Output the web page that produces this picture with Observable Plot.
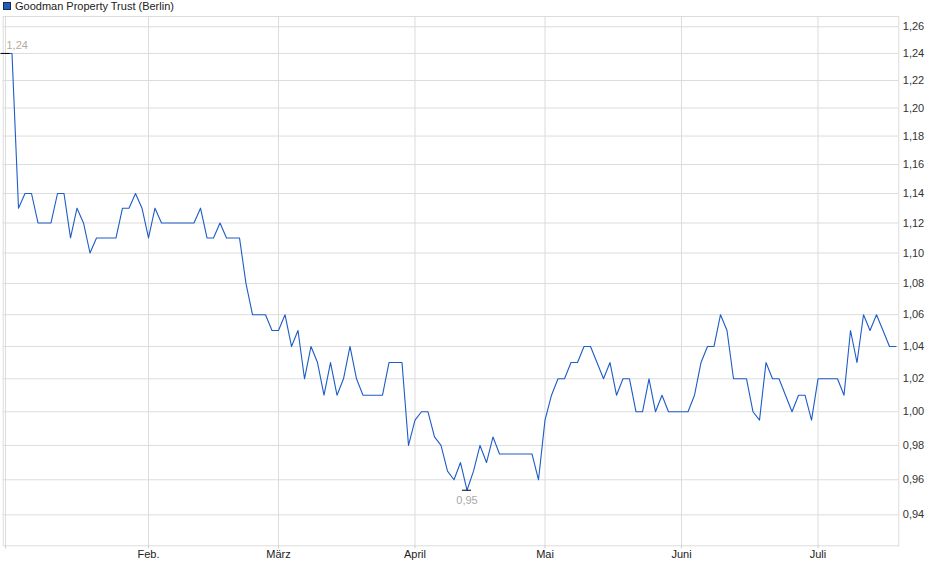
<!DOCTYPE html>
<html>
<head>
<meta charset="utf-8">
<script src="https://cdn.jsdelivr.net/npm/d3@7"></script>
<script src="https://cdn.jsdelivr.net/npm/@observablehq/plot@0.6"></script>
<style>
  html, body { margin: 0; padding: 0; background: #fff; }
  #legend { height: 14px; line-height: 14px; font: 11px "Liberation Sans", Arial, sans-serif; color: #222; padding-left: 3px; white-space: nowrap; }
  #legend .sw { display: inline-block; width: 6px; height: 6px; background: #1e5cc6; border: 1px solid #1a2a48; vertical-align: -0px; margin-right: 4px; }
  svg { display: block; }
</style>
</head>
<body>
<div id="legend"><span class="sw"></span>Goodman Property Trust (Berlin)</div>
<div id="chart"></div>
<script>
const seriesName = "Goodman Property Trust (Berlin)";
// daily closing prices (one per trading day)
const values = [
  1.24, 1.24, 1.13, 1.14, 1.14, 1.12, 1.12, 1.12, 1.14, 1.14,
  1.11, 1.13, 1.12, 1.10, 1.11, 1.11, 1.11, 1.11, 1.13, 1.13,
  1.14, 1.13, 1.11, 1.13, 1.12, 1.12, 1.12, 1.12, 1.12, 1.12,
  1.13, 1.11, 1.11, 1.12, 1.11, 1.11, 1.11, 1.08, 1.06, 1.06,
  1.06, 1.05, 1.05, 1.06, 1.04, 1.05, 1.02, 1.04, 1.03, 1.01,
  1.03, 1.01, 1.02, 1.04, 1.02, 1.01, 1.01, 1.01, 1.01, 1.03,
  1.03, 1.03, 0.98, 0.995, 1.00, 1.00, 0.985, 0.98, 0.965, 0.96,
  0.97, 0.954, 0.965, 0.98, 0.97, 0.985, 0.975, 0.975, 0.975, 0.975,
  0.975, 0.975, 0.96, 0.995, 1.01, 1.02, 1.02, 1.03, 1.03, 1.04,
  1.04, 1.03, 1.02, 1.03, 1.01, 1.02, 1.02, 1.00, 1.00, 1.02,
  1.00, 1.01, 1.00, 1.00, 1.00, 1.00, 1.01, 1.03, 1.04, 1.04,
  1.06, 1.05, 1.02, 1.02, 1.02, 1.00, 0.995, 1.03, 1.02, 1.02,
  1.01, 1.00, 1.01, 1.01, 0.995, 1.02, 1.02, 1.02, 1.02, 1.01,
  1.05, 1.03, 1.06, 1.05, 1.06, 1.05, 1.04, 1.04
];
// month boundaries (trading-day index) and their labels
const monthTickIndex = [0, 22, 42, 63, 83, 104, 125];
const monthLabels = ["", "Feb.", "März", "April", "Mai", "Juni", "Juli"];
// price axis ticks
const priceTicks = [0.94, 0.96, 0.98, 1.00, 1.02, 1.04, 1.06, 1.08, 1.10, 1.12, 1.14, 1.16, 1.18, 1.20, 1.22, 1.24, 1.26];

const fmt = d => d3.format(".2f")(d).replace(".", ",");
const data = values.map((v, i) => ({i, v}));
const maxV = d3.max(values), minV = d3.min(values);
const maxPt = data[values.indexOf(maxV)];
const minPt = data[values.indexOf(minV)];
const lineColor = "#1e5cc6";

const chart = Plot.plot({
  width: 940,
  height: 565,
  marginTop: 2,
  marginBottom: 33.7,
  marginLeft: 2.7,
  marginRight: 41.7,
  style: {fontFamily: "'Liberation Sans', Arial, sans-serif", fontSize: "11px", color: "#333", background: "#fff"},
  x: {type: "linear", domain: [-0.354, 137.43], axis: null},
  y: {type: "log", domain: [0.9227, 1.2678], axis: null},
  marks: [
    Plot.gridY(priceTicks, {stroke: "#dcdcdc", strokeOpacity: 1}),
    Plot.gridX(monthTickIndex, {stroke: "#dcdcdc", strokeOpacity: 1}),
    Plot.frame({stroke: "#dcdcdc"}),
    Plot.axisY(priceTicks, {anchor: "right", tickSize: 0, tickPadding: 4, tickFormat: fmt, fill: "#333", label: null}),
    Plot.axisX(monthTickIndex, {anchor: "bottom", tickSize: 3, tickPadding: 1, stroke: "#cfcfcf",
      tickFormat: d => monthLabels[monthTickIndex.indexOf(d)], fill: "#222", label: null}),
    Plot.line(data, {x: "i", y: "v", stroke: lineColor, strokeWidth: 1.1}),
    Plot.ruleY([maxPt, minPt], {y: "v", x1: d => d.i - 0.7, x2: d => d.i + 0.7, stroke: "#000", strokeWidth: 1}),
    Plot.text([maxPt], {x: "i", y: "v", text: d => fmt(d.v), dx: 1, dy: -8, textAnchor: "start", fill: "#b8ab9b"}),
    Plot.text([minPt], {x: "i", y: "v", text: d => fmt(d.v), dy: 10, textAnchor: "middle", fill: "#a8a8a8"})
  ]
});
document.getElementById("chart").appendChild(chart);
</script>
</body>
</html>
